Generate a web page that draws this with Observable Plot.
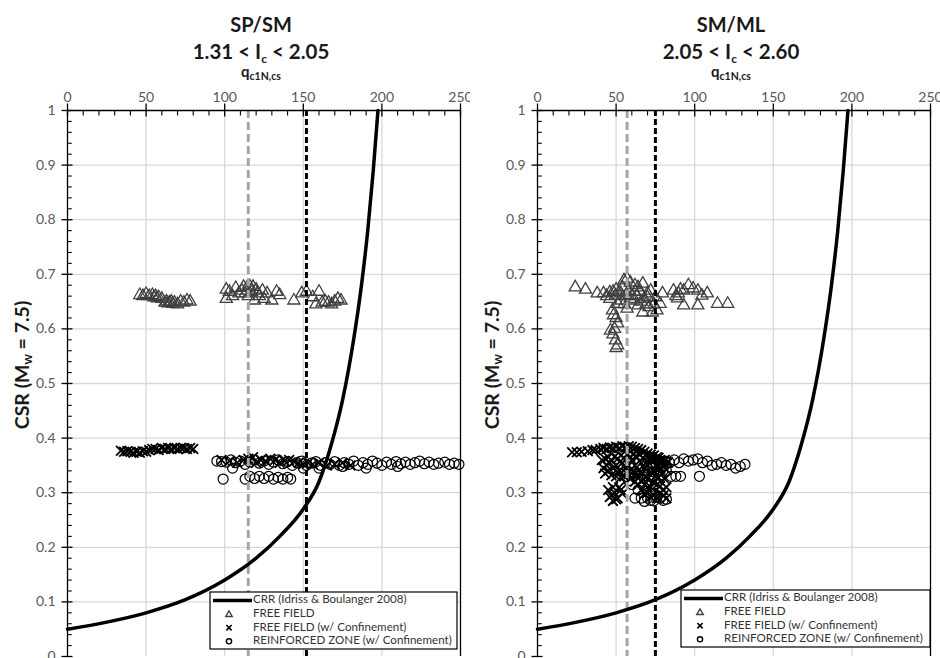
<!DOCTYPE html>
<html><head><meta charset="utf-8">
<script src="https://cdn.jsdelivr.net/npm/d3@7"></script>
<script src="https://cdn.jsdelivr.net/npm/@observablehq/plot@0.6"></script>
<style>
body{margin:0;background:#fff;}
#wrap{position:relative;width:940px;height:658px;overflow:hidden;background:#fff;}
.panel{position:absolute;top:0;}
</style></head><body><div id="wrap"></div>
<script>
// ---- ticks ----
const xTicks = [0, 50, 100, 150, 200, 250];
const xGrid = [50, 100, 150, 200];
const xMinor = [10,20,30,40,60,70,80,90,110,120,130,140,160,170,180,190,210,220,230,240];
const yTicks = [0, 0.1, 0.2, 0.3, 0.4, 0.5, 0.6, 0.7, 0.8, 0.9, 1];
const yGrid = [0.1, 0.2, 0.3, 0.4, 0.5, 0.6, 0.7, 0.8, 0.9];
const yMinor = [0.02,0.04,0.06,0.08,0.12,0.14,0.16,0.18,0.22,0.24,0.26,0.28,0.32,0.34,0.36,0.38,0.42,0.44,0.46,0.48,0.52,0.54,0.56,0.58,0.62,0.64,0.66,0.68,0.72,0.74,0.76,0.78,0.82,0.84,0.86,0.88,0.92,0.94,0.96,0.98];

// ---- CRR curve (Idriss & Boulanger 2008) ----
const crrQ   = [0, 25, 50, 75, 100, 120, 135, 150, 160, 168, 175, 182, 187, 191, 194.5, 197.5];
const crrCSR = [0.05, 0.063, 0.08, 0.104, 0.14, 0.18, 0.22, 0.27, 0.32, 0.39, 0.47, 0.58, 0.68, 0.78, 0.89, 1.0];

// ---- SP/SM panel ----
const spFF = [[46,0.662],[48,0.66],[50,0.664],[52,0.66],[54,0.662],[55,0.658],[56,0.66],[57,0.656],[58,0.658],[60,0.655],[62,0.648],[63,0.65],[64,0.647],[65,0.648],[66,0.65],[67,0.646],[68,0.648],[70,0.645],[72,0.65],[74,0.648],[76,0.652],[78,0.65],
 [101,0.655],[101,0.672],[103,0.668],[105,0.66],[107,0.675],[109,0.665],[111,0.67],[112,0.677],[113,0.665],[114,0.675],[115,0.66],[116,0.678],[117,0.668],[118,0.677],[119,0.652],[120,0.672],[121,0.665],[122,0.66],[124,0.67],[125,0.655],[127,0.665],[130,0.652],[133,0.668],[135,0.662],
 [144,0.652],[149,0.665],[152,0.668],[156,0.658],[158,0.645],[160,0.668],[162,0.648],[164,0.65],[166,0.648],[168,0.645],[170,0.65],[172,0.655],[174,0.652]];
const spFFc = [[34,0.377],[36,0.375],[38,0.376],[40,0.375],[42,0.373],[44,0.375],[46,0.373],[48,0.376],[50,0.375],[52,0.378],[54,0.38],[56,0.38],[58,0.378],[60,0.382],[62,0.38],[64,0.382],[66,0.38],[68,0.382],[70,0.38],[72,0.382],[74,0.382],[76,0.38],[78,0.382],[80,0.38],
 [98,0.36],[103,0.358],[108,0.355],[112,0.36],[115,0.362],[118,0.365],[120,0.355],[123,0.36],[126,0.358],[129,0.362],[132,0.36],[135,0.355],[138,0.358],[141,0.36],[144,0.357],[147,0.355],[150,0.352],[153,0.355],[156,0.352],[160,0.355],[165,0.35],[170,0.352],[175,0.355],[180,0.35]];
const spRZ = [[95,0.358],[98,0.357],[101,0.356],[104,0.36],[107,0.355],[110,0.358],[113,0.352],[116,0.356],[119,0.36],[122,0.354],[125,0.358],[128,0.352],[131,0.356],[134,0.36],[137,0.353],[140,0.357],[143,0.35],[146,0.355],[149,0.358],[152,0.35],[155,0.354],[158,0.357],[161,0.35],[164,0.355],[167,0.352],[170,0.357],[173,0.35],[176,0.355],[179,0.352],[182,0.358],[185,0.35],[188,0.355],[191,0.352],[194,0.358],[197,0.354],[200,0.35],[203,0.356],[206,0.352],[209,0.357],[212,0.353],[215,0.356],[218,0.352],[221,0.355],[224,0.358],[227,0.353],[230,0.356],[233,0.352],[236,0.354],[240,0.356],[243,0.352],[246,0.354],[249,0.352],
 [99,0.325],[113,0.325],[116,0.33],[119,0.326],[122,0.33],[125,0.326],[128,0.33],[131,0.325],[134,0.328],[137,0.325],[140,0.328],[142,0.325],[105,0.345],[150,0.345],[160,0.345],[175,0.348],[190,0.345],[210,0.348]];

// ---- SM/ML panel ----
const smFF = [[24,0.676],[30.5,0.672],[38,0.665],[42,0.665],[46,0.667],[49.6,0.661],[53,0.665],[55,0.689],[57,0.692],[59,0.685],[62,0.68],[64,0.676],[67,0.683],[70,0.665],[72,0.67],[75,0.658],[79.5,0.665],
 [51,0.646],[53,0.652],[55,0.645],[57,0.637],[59,0.655],[61,0.652],[63,0.66],[64,0.643],[66,0.65],[67,0.63],[69,0.645],[71,0.64],[73,0.63],[76,0.634],[78,0.646],[44,0.66],[46,0.655],[48,0.668],[50,0.672],[52,0.668],[54,0.676],[56,0.66],[58,0.67],[60,0.662],[62,0.668],[65,0.668],[68,0.655],[70,0.658],[74,0.645],
 [86.5,0.67],[88,0.66],[89.6,0.665],[91,0.672],[93,0.67],[96,0.68],[99,0.674],[102,0.67],[104.6,0.661],[108,0.665],[89,0.656],[93,0.643],[102,0.643],[114.5,0.646],[121,0.646],
 [47.7,0.634],[48.3,0.625],[49,0.6],[51,0.61],[50,0.62],[49.6,0.579],[51,0.57],[46.4,0.597],[50,0.565],[48,0.59]];
const smFFc = [[22,0.374],[25,0.374],[28,0.375],[32,0.376],[35,0.378],[37,0.378],[40,0.38],[42,0.382],[44,0.38],[46,0.383],[48,0.382],[50,0.384],[52,0.382],[54,0.385],[56,0.383],[58,0.385],[60,0.384],[62,0.382],[64,0.38],[66,0.378],[68,0.375],[70,0.372],[72,0.37],[74,0.368],[76,0.365],[78,0.36],[80,0.358],
 [41,0.36],[43,0.362],[45,0.365],[47,0.36],[49,0.366],[51,0.362],[53,0.368],[55,0.364],[57,0.37],[59,0.366],[61,0.37],[63,0.366],[65,0.37],[67,0.364],[69,0.368],[71,0.362],[73,0.366],[75,0.36],[77,0.364],[79,0.358],[81,0.36],[83,0.356],
 [42,0.345],[44,0.35],[45,0.34],[46,0.355],[48,0.345],[50,0.35],[52,0.34],[54,0.355],[56,0.345],[58,0.35],[60,0.36],[62,0.35],[64,0.34],[66,0.355],[68,0.345],[70,0.35],[72,0.36],[74,0.34],[76,0.35],[78,0.345],[80,0.35],[82,0.342],
 [43,0.335],[47,0.332],[51,0.338],[53,0.328],[57,0.335],[59,0.325],[61,0.338],[63,0.33],[67,0.336],[69,0.328],[73,0.335],[77,0.328],[79,0.335],[81,0.325],
 [50,0.33],[55,0.33],[60,0.335],[65,0.33],[70,0.325],[75,0.33],[62,0.32],[64,0.315],[66,0.322],[68,0.315],[70,0.31],[72,0.31],[74,0.318],[76,0.315],[78,0.312],[80,0.305],[82,0.31],[66,0.305],[68,0.298],[70,0.3],[72,0.292],[74,0.295],[76,0.29],[78,0.3],[80,0.295],[82,0.29],
 [45,0.305],[46,0.292],[47,0.295],[48,0.31],[49,0.3],[50,0.288],[51,0.29],[53,0.305],[48,0.285],[52,0.31],[54,0.298]];
const smRZ = [[56,0.33],[58,0.322],[60,0.335],[64,0.325],[62,0.29],[66,0.29],[68,0.284],[70,0.29],[72,0.286],[74,0.285],[76,0.292],[78,0.29],[80,0.286],[82,0.288],
 [75,0.355],[77,0.36],[79,0.352],[81,0.358],[84,0.355],[87,0.36],[90,0.355],[93,0.362],[96,0.358],[99,0.36],[102,0.362],[105,0.355],[108,0.358],[111,0.35],[114,0.352],[117,0.355],[120,0.35],[123,0.352],[126,0.345],[129,0.348],[132,0.352],
 [85,0.33],[88,0.33],[91,0.33],[103,0.33],[76,0.36],[80,0.355],[70,0.345],[72,0.33],[60,0.315],[64,0.305],[68,0.34],[74,0.338],[78,0.332],[82,0.34]];

const legendLabels = ["CRR (Idriss & Boulanger 2008)", "FREE FIELD", "FREE FIELD (w/ Confinement)", "REINFORCED ZONE (w/ Confinement)"];

const panels = [
  {left: 0, title: "SP/SM", icLo: "1.31", icHi: "2.05", ff: spFF, ffc: spFFc, rz: spRZ, gray: 115, black: 152, legend: {x: 210, y: 592, w: 247, h: 57}},
  {left: 470, title: "SM/ML", icLo: "2.05", icHi: "2.60", ff: smFF, ffc: smFFc, rz: smRZ, gray: 57, black: 75, legend: {x: 211, y: 590, w: 249, h: 57}}
];

const FONT = "Lato, 'Open Sans', sans-serif";
const X = d => d[0], Y = d => d[1];

function makePanel(cfg) {
  const crr = crrQ.map((q, i) => [q, crrCSR[i]]);
  const svg = Plot.plot({
    width: 470, height: 658,
    marginTop: 110, marginBottom: 2, marginLeft: 67, marginRight: 10,
    x: {domain: [0, 250]}, y: {domain: [0, 1]},
    style: {fontFamily: FONT, fontSize: "14px", overflow: "visible", background: "white"},
    marks: [
      Plot.ruleX(xGrid, {stroke: "#d9d9d9", strokeWidth: 1.3}),
      Plot.ruleY(yGrid, {stroke: "#d9d9d9", strokeWidth: 1.3}),
      Plot.dot(cfg.rz, {x: X, y: Y, r: 5, stroke: "#000", strokeWidth: 1.2, fill: "none"}),
      Plot.dot(cfg.ffc, {x: X, y: Y, symbol: "times", r: 4.5, stroke: "#000", strokeWidth: 1.8}),
      Plot.dot(cfg.ff, {x: X, y: Y, symbol: "triangle", r: 4.5, stroke: "#404040", strokeWidth: 1.3, fill: "none"}),
      Plot.ruleX([cfg.gray], {stroke: "#a6a6a6", strokeWidth: 3, strokeDasharray: "8,4"}),
      Plot.ruleX([cfg.black], {stroke: "#000", strokeWidth: 3, strokeDasharray: "6,3"}),
      Plot.line(crr, {x: X, y: Y, curve: "monotone-x", stroke: "#000", strokeWidth: 3.5}),
      Plot.ruleY([1], {stroke: "#000", strokeWidth: 1.3}),
      Plot.ruleX([0], {stroke: "#000", strokeWidth: 1.3}),
      Plot.ruleX([250], {stroke: "#000", strokeWidth: 1.3}),
      Plot.ruleX(xMinor, {y1: 1, y2: 0.99, stroke: "#000", strokeWidth: 1.1}),
      Plot.ruleX(xTicks, {y1: 1.012, y2: 0.988, stroke: "#000", strokeWidth: 1.3}),
      Plot.ruleY(yMinor, {x1: 0, x2: 3, stroke: "#000", strokeWidth: 1.1}),
      Plot.ruleY(yTicks, {x1: -3.5, x2: 3.5, stroke: "#000", strokeWidth: 1.3}),
      Plot.axisX({anchor: "top", ticks: xTicks, tickSize: 0, tickPadding: 9, label: null, color: "#595959", fontSize: 14}),
      Plot.axisY({anchor: "left", ticks: yTicks, tickSize: 0, tickPadding: 12, label: null, color: "#595959", fontSize: 14, tickFormat: d => String(+d.toFixed(1))})
    ]
  });
  const s = d3.select(svg);
  const cx = 261;
  // titles
  const t = s.append("g").attr("font-family", FONT).attr("font-weight", "bold").attr("fill", "#1a1a1a").attr("text-anchor", "middle");
  t.append("text").attr("x", cx).attr("y", 32).attr("font-size", 20).text(cfg.title);
  const t2 = t.append("text").attr("x", cx).attr("y", 59).attr("font-size", 20.5);
  t2.append("tspan").text(cfg.icLo + " < I");
  t2.append("tspan").attr("font-size", 12).attr("dy", 4).text("c");
  t2.append("tspan").attr("dy", -4).text(" < " + cfg.icHi);
  const t3 = t.append("text").attr("x", cx).attr("y", 77).attr("font-size", 15);
  t3.append("tspan").text("q");
  t3.append("tspan").attr("font-size", 10.5).attr("dy", 3).text("c1N,cs");
  // y label
  const yl = s.append("text").attr("transform", "translate(24,365) rotate(-90)").attr("text-anchor", "middle")
    .attr("dominant-baseline", "middle").attr("font-family", FONT).attr("font-weight", "bold").attr("font-size", 19.5).attr("fill", "#1a1a1a");
  yl.append("tspan").text("CSR (M");
  yl.append("tspan").attr("font-size", 13).attr("dy", 5).text("w");
  yl.append("tspan").attr("dy", -5).text(" = 7.5)");
  // legend
  const L = cfg.legend;
  const g = s.append("g").attr("font-family", FONT).attr("font-size", 11.6).attr("fill", "#333").attr("text-anchor", "start");
  g.append("rect").attr("x", L.x).attr("y", L.y).attr("width", L.w).attr("height", L.h).attr("fill", "white").attr("stroke", "#000").attr("stroke-width", 1.2);
  const rowY = i => L.y + 8.5 + i * 13.6;
  const sx = L.x + 19, tx = L.x + 42;
  g.append("path").attr("d", `M${L.x + 3},${rowY(0)}H${tx}`).attr("stroke", "#000").attr("stroke-width", 3.5).attr("fill", "none");
  g.append("path").attr("d", d3.symbol(d3.symbolTriangle, 18)()).attr("transform", `translate(${sx},${rowY(1) + 0.5})`).attr("fill", "none").attr("stroke", "#404040").attr("stroke-width", 1.4);
  g.append("path").attr("d", d3.symbol(d3.symbolTimes, 20)()).attr("transform", `translate(${sx},${rowY(2)})`).attr("fill", "none").attr("stroke", "#000").attr("stroke-width", 1.6);
  g.append("circle").attr("cx", sx).attr("cy", rowY(3)).attr("r", 2.6).attr("fill", "none").attr("stroke", "#000").attr("stroke-width", 1.4);
  legendLabels.forEach((lab, i) => {
    g.append("text").attr("x", tx + 1).attr("y", rowY(i)).attr("dominant-baseline", "middle").attr("text-anchor", "start").text(lab);
  });
  const div = document.createElement("div");
  div.className = "panel";
  div.style.left = cfg.left + "px";
  div.appendChild(svg);
  document.getElementById("wrap").appendChild(div);
}
panels.forEach(makePanel);
</script></body></html>
